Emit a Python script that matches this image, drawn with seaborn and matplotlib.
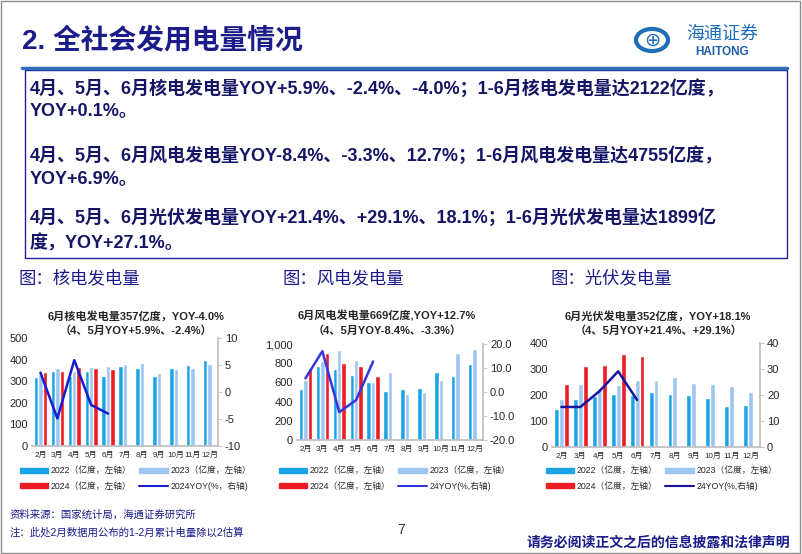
import numpy as np
import pandas as pd
import seaborn as sns
import matplotlib.pyplot as plt
from matplotlib.patches import Patch, Rectangle, Circle
from matplotlib.lines import Line2D

months = ['2月', '3月', '4月', '5月', '6月', '7月', '8月', '9月', '10月', '11月', '12月']

# nuclear (亿度, %)
nuc_2022 = [318, 349, 326, 347, 326, 370, 363, 323, 360, 373, 397]
nuc_2023 = [340, 360, 345, 367, 370, 380, 382, 340, 358, 363, 380]
nuc_2024 = [344, 349, 367, 360, 357]
nuc_yoy = [3.6, -4.9, 5.9, -2.4, -4.0]

# wind
wind_2022 = [528, 771, 736, 677, 601, 514, 535, 540, 705, 670, 795]
wind_2023 = [620, 826, 941, 833, 608, 705, 480, 495, 625, 910, 950]
wind_2024 = [746, 903, 806, 771, 669]
wind_yoy = [5.7, 17.0, -8.4, -3.3, 12.7]

# solar
pv_2022 = [147, 186, 195, 205, 201, 210, 205, 200, 190, 157, 160]
pv_2023 = [183, 241, 228, 240, 259, 259, 268, 245, 243, 233, 210]
pv_2024 = [244, 310, 314, 359, 351]
pv_yoy = [15.4, 15.4, 21.4, 29.1, 18.1]

sns.set_theme(style='white')
plt.rcParams['font.family'] = ['Liberation Sans', 'Noto Sans CJK SC', 'DejaVu Sans']
plt.rcParams['axes.unicode_minus'] = False

W, H = 802, 554
fig = plt.figure(figsize=(W / 100, H / 100), dpi=100)
navy = '#1B1B8A'
colors = {'2022': '#1AA3E6', '2023': '#9DC6F2', '2024': '#EE1C25'}


def px(x, y):
    return x / W, 1 - y / H


def draw_chart(box, v22, v23, v24, yoy, ylim, yticks, ylabels, y2lim, y2ticks, y2labels,
               line_color, title1, title2, tcx, yoy_label, leg_x):
    l, t, r, b = box
    ax = fig.add_axes([l / W, 1 - b / H, (r - l) / W, (b - t) / H])
    n = len(months)
    df = pd.DataFrame({
        'month': months * 3,
        'year': ['2022'] * n + ['2023'] * n + ['2024'] * n,
        'value': v22 + v23 + v24 + [np.nan] * (n - len(v24)),
    })
    sns.barplot(data=df, x='month', y='value', hue='year', palette=colors, width=0.78,
                saturation=1, legend=False, ax=ax)
    ax.set_xlim(-0.5, n - 0.5)
    ax.set_ylim(*ylim)
    ax.set_yticks(yticks)
    ax.set_yticklabels(ylabels)
    ax.set_xlabel('')
    ax.set_ylabel('')
    ax.tick_params(axis='y', length=0, labelsize=8, pad=3)
    ax.tick_params(axis='x', length=0, labelsize=5.8, pad=4)
    for s in ['top', 'left', 'right']:
        ax.spines[s].set_visible(False)
    ax.spines['bottom'].set_color('#BFBFBF')

    ax2 = ax.twinx()
    line_df = pd.DataFrame({'pos': np.arange(len(yoy)), 'yoy': yoy})
    sns.lineplot(data=line_df, x='pos', y='yoy', color=line_color, lw=1.8, ax=ax2)
    ax2.set_xlim(-0.5, n - 0.5)
    ax2.set_ylim(*y2lim)
    ax2.set_yticks(y2ticks)
    ax2.set_yticklabels(y2labels)
    ax2.set_ylabel('')
    ax2.set_xlabel('')
    ax2.tick_params(axis='y', length=3, width=0.6, color='#BFBFBF', labelsize=8, pad=2)
    for s in ['top', 'left', 'bottom']:
        ax2.spines[s].set_visible(False)
    ax2.spines['right'].set_color('#BFBFBF')

    fig.text(*px(tcx, 316), title1, ha='center', va='center', fontsize=8, fontweight='bold')
    fig.text(*px(tcx, 331), title2, ha='center', va='center', fontsize=8, fontweight='bold')

    handles = [Patch(color=colors['2022']), Patch(color=colors['2024']),
               Patch(color=colors['2023']), Line2D([], [], color=line_color, lw=1.5)]
    labels = ['2022（亿度，左轴）', '2024（亿度，左轴）', '2023（亿度，左轴）', yoy_label]
    lx, ly = px(leg_x, 463)
    fig.legend(handles, labels, loc='upper left', bbox_to_anchor=(lx, ly), ncol=2,
               frameon=False, fontsize=6.3, handlelength=3.3, handleheight=0.6,
               columnspacing=0.8, labelspacing=0.7, handletextpad=0.3, borderaxespad=0)


draw_chart((32, 338, 218, 446), nuc_2022, nuc_2023, nuc_2024, nuc_yoy,
           (0, 500), [0, 100, 200, 300, 400, 500], ['0', '100', '200', '300', '400', '500'],
           (-10, 10), [-10, -5, 0, 5, 10], ['-10', '-5', '0', '5', '10'],
           '#1A1ACF', '6月核电发电量357亿度，YOY-4.0%', '（4、5月YOY+5.9%、-2.4%）', 136,
           '2024YOY(%，右轴)', 16)

draw_chart((297, 344, 483, 440), wind_2022, wind_2023, wind_2024, wind_yoy,
           (0, 1000), [0, 200, 400, 600, 800, 1000], ['0', '200', '400', '600', '800', '1,000'],
           (-20, 20), [-20, -10, 0, 10, 20], ['-20.0', '-10.0', '0.0', '10.0', '20.0'],
           '#3535DE', '6月风电发电量669亿度,YOY+12.7%', '（4、5月YOY-8.4%、-3.3%）', 387,
           '24YOY(%,右轴)', 275)

draw_chart((552, 343, 760, 447), pv_2022, pv_2023, pv_2024, pv_yoy,
           (0, 400), [0, 100, 200, 300, 400], ['0', '100', '200', '300', '400'],
           (0, 40), [0, 10, 20, 30, 40], ['0', '10', '20', '30', '40'],
           '#16169E', '6月光伏发电量352亿度，YOY+18.1%', '（4、5月YOY+21.4%、+29.1%）', 658,
           '24YOY(%,右轴)', 542)

# slide decorations
fig.patches.append(Rectangle((0.001, 0.002), 0.997, 0.996, transform=fig.transFigure,
                             fill=False, ec='#8C8C8C', lw=1))
fig.text(*px(22, 41), '2. 全社会发用电量情况', fontsize=20, fontweight='bold', color=navy,
         ha='left', va='center')
fig.lines.append(Line2D([22 / W, 787 / W], [1 - 68 / H, 1 - 68 / H], transform=fig.transFigure,
                        color='#2E6FB7', lw=2.5))
fig.patches.append(Rectangle(px(25, 258), 762 / W, 188 / H, transform=fig.transFigure,
                             fill=False, ec='#22229A', lw=1))

body = [
    (88, '4月、5月、6月核电发电量YOY+5.9%、-2.4%、-4.0%；1-6月核电发电量达2122亿度，'),
    (112, 'YOY+0.1%。'),
    (155, '4月、5月、6月风电发电量YOY-8.4%、-3.3%、12.7%；1-6月风电发电量达4755亿度，'),
    (180, 'YOY+6.9%。'),
    (218, '4月、5月、6月光伏发电量YOY+21.4%、+29.1%、18.1%；1-6月光伏发电量达1899亿'),
    (243, '度，YOY+27.1%。'),
]
for y, s in body:
    fig.text(*px(30, y), s, fontsize=13, fontweight='bold', color='#151566', ha='left', va='center')

for x, s in [(18, '图：核电发电量'), (283, '图：风电发电量'), (550, '图：光伏发电量')]:
    fig.text(*px(x, 278), s, fontsize=12.5, color=navy, ha='left', va='center')

# logo
fig.patches.append(Circle(px(652, 40), 16 / W, transform=fig.transFigure, fill=False,
                          ec='#1D6FB8', lw=3))
fig.text(*px(652, 40), '⊕', fontsize=14, color='#1D6FB8', ha='center', va='center',
         family='DejaVu Sans')
fig.text(*px(722, 34), '海通证券', fontsize=13, color='#1D6FB8', ha='center', va='center',
         style='italic')
fig.text(*px(722, 52), 'HAITONG', fontsize=8.5, color='#1D5FA8', ha='center', va='center',
         fontweight='bold')

# footer
fig.text(*px(10, 515), '资料来源：国家统计局，海通证券研究所', fontsize=7.5, color=navy,
         ha='left', va='center')
fig.text(*px(10, 532), '注：此处2月数据用公布的1-2月累计电量除以2估算', fontsize=7.5, color=navy,
         ha='left', va='center')
fig.text(*px(401, 530), '7', fontsize=10, color='#333333', ha='center', va='center')
fig.text(*px(790, 543), '请务必阅读正文之后的信息披露和法律声明', fontsize=10, fontweight='bold',
         color=navy, ha='right', va='center')

fig.savefig('out.png', dpi=100)
